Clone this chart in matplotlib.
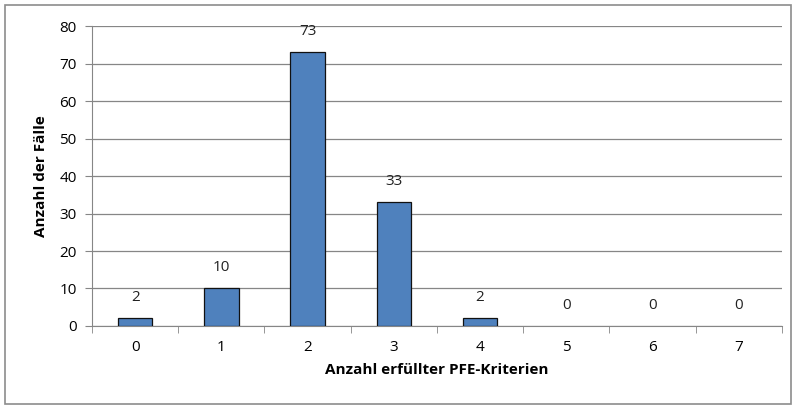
import matplotlib.pyplot as plt
import matplotlib.patches as patches
import numpy as np

plt.rcParams['font.family'] = ['Open Sans', 'DejaVu Sans']

# Daten
kategorien = ['0', '1', '2', '3', '4', '5', '6', '7']
faelle = [2, 10, 73, 33, 2, 0, 0, 0]

fig = plt.figure(figsize=(7.96, 4.09), dpi=100)
ax = fig.add_axes([0.1156, 0.203, 0.8665, 0.733])

# äußerer Rahmen
fig.patches.append(patches.Rectangle((0.006, 0.012), 0.988, 0.976, transform=fig.transFigure,
                                     fill=False, edgecolor='#8c8c8c', linewidth=1.2))

x = np.arange(len(kategorien))
# Balken mit Wert 0 ohne Rand zeichnen
kanten = [0.9 if v > 0 else 0 for v in faelle]
ax.bar(x, faelle, width=0.4, color='#4f81bd', edgecolor='#111111', linewidth=kanten, zorder=3)

for xi, v in zip(x, faelle):
    ax.text(xi, v + 3.5, str(v), ha='center', va='bottom', fontsize=11, color='#222222')

ax.set_xlim(-0.5, len(kategorien) - 0.5)
ax.set_ylim(0, 80)
ax.set_yticks(range(0, 81, 10))
ax.set_xticks(x)
ax.set_xticklabels(kategorien)
ax.set_xticks(np.arange(-0.5, len(kategorien)), minor=True)
ax.tick_params(axis='x', which='major', length=0, pad=10, labelsize=11)
ax.tick_params(axis='x', which='minor', length=5, color='#868686', direction='out')
ax.tick_params(axis='y', length=5, color='#868686', direction='out', labelsize=11, pad=6)

ax.grid(axis='y', color='#868686', linewidth=0.9, zorder=0)
for side in ['top', 'right']:
    ax.spines[side].set_visible(False)
ax.spines['left'].set_color('#868686')
ax.spines['bottom'].set_color('#868686')

ax.set_xlabel('Anzahl erfüllter PFE-Kriterien', fontsize=11, fontweight='bold', labelpad=6)
ax.set_ylabel('Anzahl der Fälle', fontsize=11, fontweight='bold', labelpad=8)

plt.savefig('out.png', dpi=100)
